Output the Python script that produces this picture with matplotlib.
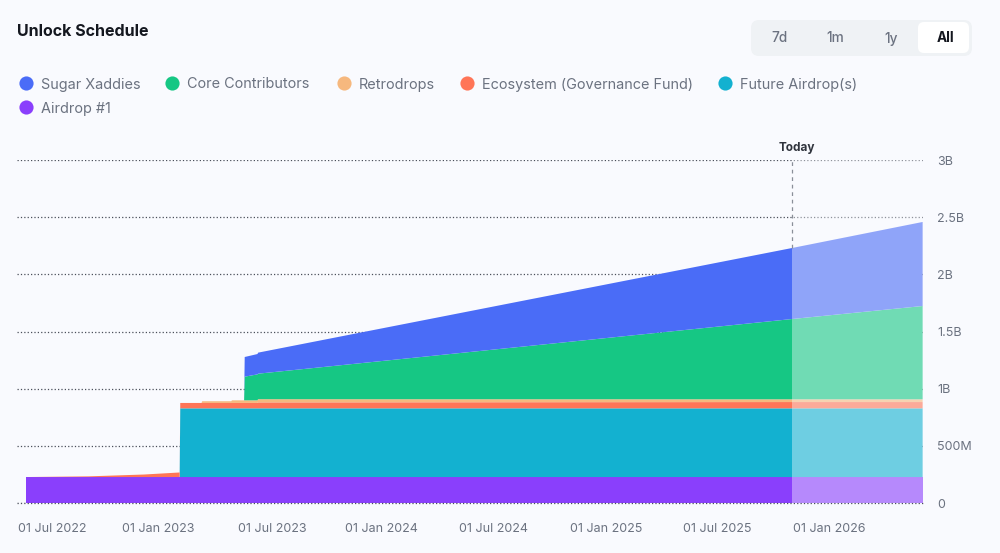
import datetime as dt
import matplotlib
matplotlib.use('Agg')
import matplotlib.pyplot as plt
import matplotlib.dates as mdates
from matplotlib.patches import FancyBboxPatch
import numpy as np

plt.rcParams['font.family'] = ['Inter', 'DejaVu Sans']

# stacked thickness of each series at each date, in millions of tokens
dates = ['2022-05-21', '2022-09-01', '2022-12-01', '2023-01-29', '2023-01-30',
         '2023-03-06', '2023-03-07', '2023-04-24', '2023-04-25', '2023-05-15',
         '2023-05-16', '2023-06-06', '2023-06-07', '2025-11-01', '2026-06-04']
airdrop = [227, 227, 227, 227, 227, 227, 227, 227, 227, 227, 227, 227, 227, 227, 227]
future = [0, 0, 0, 0, 601, 601, 601, 601, 601, 601, 601, 601, 601, 601, 601]
ecosystem = [0, 6, 22, 40, 47, 47, 47, 47, 47, 47, 47, 47, 52, 55, 55]
retrodrops = [0, 0, 0, 0, 0, 0, 15, 15, 23, 23, 23, 23, 28, 24, 24]
core = [0, 0, 0, 0, 0, 0, 0, 0, 0, 0, 207, 227, 223, 702, 816]
sugar = [0, 0, 0, 0, 0, 0, 0, 0, 0, 0, 172, 178, 184, 621, 735]

series_names = ['Sugar Xaddies', 'Core Contributors', 'Retrodrops',
                'Ecosystem (Governance Fund)', 'Future Airdrop(s)', 'Airdrop #1']
series_colors = ['#4A6CF7', '#16C784', '#F6B87E', '#FF7557', '#13B1D0', '#8A3FFC']

today = '2025-11-01'
# the chart places its labels slightly off the exact month starts
x_ticks = ['2022-07-03', '2022-12-24', '2023-07-01', '2023-12-27',
           '2024-06-28', '2024-12-30', '2025-07-01', '2026-01-01']
x_labels = ['01 Jul 2022', '01 Jan 2023', '01 Jul 2023', '01 Jan 2024',
            '01 Jul 2024', '01 Jan 2025', '01 Jul 2025', '01 Jan 2026']
y_ticks = [0, 500, 1000, 1500, 2000, 2500, 3000]
y_labels = ['0', '500M', '1B', '1.5B', '2B', '2.5B', '3B']
buttons = ['7d', '1m', '1y', 'All']

bg = '#F9FAFE'
W, H = 1000, 553
fig = plt.figure(figsize=(W / 100, H / 100), dpi=100, facecolor=bg)

# chart area, positions are in pixels of the final image
left, right, top, bottom = 17, 923, 160, 503
ax = fig.add_axes([left / W, 1 - bottom / H, (right - left) / W, (bottom - top) / H])
ax.set_facecolor('none')

xs = np.array([mdates.date2num(dt.date.fromisoformat(d)) for d in dates])
ys = np.array([airdrop, future, ecosystem, retrodrops, core, sugar], dtype=float)
ax.stackplot(xs, ys, colors=series_colors[::-1], linewidth=0, zorder=3)

px_per_day = 0.608
t_ref = mdates.date2num(dt.date(2026, 1, 1))
xlim = (t_ref + (left - 829) / px_per_day, t_ref + (right - 829) / px_per_day)
ax.set_xlim(xlim)
ax.set_ylim(0, 3000)

for s in ax.spines.values():
    s.set_visible(False)

ax.set_xticks([mdates.date2num(dt.date.fromisoformat(d)) for d in x_ticks])
ax.set_xticklabels(x_labels)
ax.yaxis.tick_right()
ax.set_yticks(y_ticks)
ax.set_yticklabels(y_labels)
ax.tick_params(axis='x', length=0, pad=14.5, labelsize=9, labelcolor='#6B7280')
ax.tick_params(axis='y', length=0, pad=10, labelsize=9, labelcolor='#6B7280')

dots = (0, (1, 1.7))
ax.grid(axis='y', color='#4A4F5A', linestyle=dots, linewidth=0.9, zorder=1)
ax.set_axisbelow(True)
ax.hlines(0, xlim[0], xlim[1], color='#4A4F5A', linestyle=dots, linewidth=0.9,
          zorder=4, clip_on=False)

# everything after today is faded by a veil of the background colour
t = mdates.date2num(dt.date.fromisoformat(today))
ax.axvspan(t, xlim[1], color=bg, alpha=0.4, linewidth=0, zorder=5)
total_today = ys[:, list(xs).index(t)].sum()
ax.vlines(t, total_today, 3000, color='#8A8F99', linestyle=(0, (3, 3)), linewidth=0.9, zorder=6)

# overlay for title, legend and buttons
ov = fig.add_axes([0, 0, 1, 1], zorder=5)
ov.set_xlim(0, W)
ov.set_ylim(H, 0)
ov.axis('off')

ov.text(17, 36.5, 'Unlock Schedule', fontsize=11.5, fontweight='bold', color='#14171F', va='baseline')
ov.text(797, 150.5, 'Today', fontsize=8.5, fontweight='bold', color='#30343D', ha='center', va='baseline')

legend_x = [26, 172, 344, 467, 725, 26]
legend_y = [83, 83, 83, 83, 83, 107]
for name, c, lx, ly in zip(series_names, series_colors, legend_x, legend_y):
    ov.scatter([lx], [ly], s=104, color=c, linewidth=0)
    ov.text(lx + 15, ly + 5.5, name, fontsize=10.4, color='#6B7280', va='baseline')

ov.add_patch(FancyBboxPatch((751, 20), 221, 36, boxstyle='round,pad=0,rounding_size=8',
                            facecolor='#EFF2F5', edgecolor='none'))
ov.add_patch(FancyBboxPatch((918, 22), 51, 31, boxstyle='round,pad=0,rounding_size=6',
                            facecolor='white', edgecolor='none'))
for b, bx in zip(buttons, [779, 835, 891, 945]):
    if b == 'All':
        ov.text(bx, 42.5, b, fontsize=9.8, fontweight='bold', color='#14171F', ha='center', va='baseline')
    else:
        ov.text(bx, 42.5, b, fontsize=9.8, fontweight='medium', color='#6B7280', ha='center', va='baseline')

fig.savefig('out.png', dpi=100, facecolor=bg)
